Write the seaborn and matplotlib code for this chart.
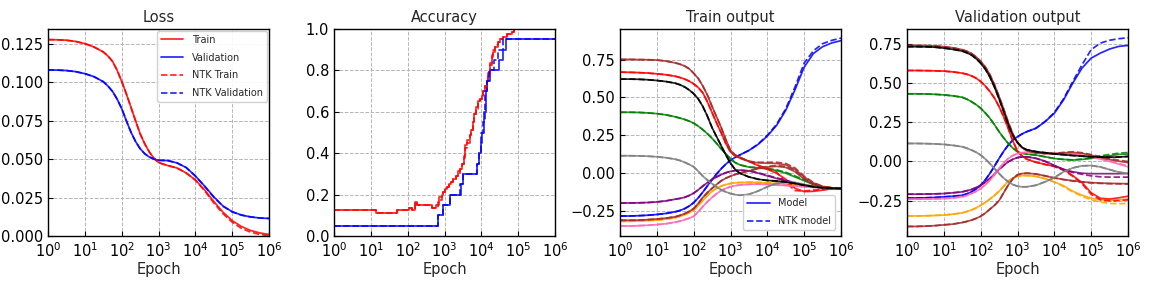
import numpy as np
import pandas as pd
import matplotlib
matplotlib.use("Agg")
import matplotlib.pyplot as plt
import matplotlib.ticker as mticker
from matplotlib.lines import Line2D
import seaborn as sns

# ---------------- data ----------------
EPOCHS = [1, 1.778, 3.162, 5.623, 10, 17.78, 31.62, 42.17, 56.23, 74.99, 100, 133.4, 177.8, 237.1,
          316.2, 421.7, 562.3, 749.9, 1000, 1334, 1778, 3162, 5623, 1e4, 17783, 31623, 56234, 1e5,
          177828, 316228, 562341, 1e6]

# Loss
LOSS_TRAIN = [0.1276, 0.1275, 0.1272, 0.1264, 0.1250, 0.1228, 0.1196, 0.1170, 0.1135, 0.1078, 0.1005,
              0.0925, 0.0838, 0.0750, 0.0665, 0.0600, 0.0546, 0.0505, 0.0478, 0.0467, 0.0458, 0.0442,
              0.0410, 0.0365, 0.0300, 0.0225, 0.0155, 0.0100, 0.0062, 0.0036, 0.0020, 0.0010]
LOSS_VAL = [0.1079, 0.1078, 0.1075, 0.1068, 0.1055, 0.1035, 0.1003, 0.0975, 0.0940, 0.0890, 0.0828,
            0.0750, 0.0676, 0.0615, 0.0568, 0.0535, 0.0513, 0.0500, 0.0492, 0.0491, 0.0490, 0.0475,
            0.0445, 0.0390, 0.0325, 0.0255, 0.0195, 0.0158, 0.0136, 0.0124, 0.0117, 0.0114]
LOSS_NTK_TRAIN = [0.1276, 0.1275, 0.1272, 0.1264, 0.1250, 0.1228, 0.1196, 0.1170, 0.1135, 0.1078, 0.1005,
                  0.0925, 0.0838, 0.0750, 0.0665, 0.0600, 0.0546, 0.0505, 0.0478, 0.0467, 0.0458, 0.0442,
                  0.0410, 0.0363, 0.0295, 0.0215, 0.0145, 0.0090, 0.0050, 0.0025, 0.0010, 0.0003]
LOSS_NTK_VAL = [0.1079, 0.1078, 0.1075, 0.1068, 0.1055, 0.1035, 0.1003, 0.0975, 0.0940, 0.0890, 0.0828,
                0.0750, 0.0676, 0.0615, 0.0568, 0.0535, 0.0513, 0.0500, 0.0492, 0.0491, 0.0490, 0.0475,
                0.0445, 0.0390, 0.0323, 0.0252, 0.0193, 0.0157, 0.0136, 0.0124, 0.0117, 0.0114]

# Accuracy (step changes)
ACC_TRAIN_EPOCH = [1, 13.5, 51, 112, 132, 158, 182, 457, 575, 661, 724, 832, 933, 1047, 1175, 1318, 1514,
                   1738, 1995, 2291, 2630, 3020, 3388, 3715, 4169, 4786, 5370, 5888, 6457, 7244, 8128,
                   9120, 10233, 11220, 12589, 14125, 15488, 16982, 19055, 21380, 23988, 28184, 33113,
                   39811, 50119, 66069, 75858, 107152]
ACC_TRAIN = [0.125, 0.1125, 0.125, 0.1375, 0.125, 0.1625, 0.15, 0.1375, 0.15, 0.1625, 0.1875, 0.2, 0.2125,
             0.225, 0.2375, 0.25, 0.2625, 0.275, 0.2875, 0.3125, 0.325, 0.35, 0.3875, 0.4375, 0.4625,
             0.4875, 0.5125, 0.55, 0.5875, 0.625, 0.65, 0.6625, 0.675, 0.7, 0.725, 0.75, 0.7875, 0.825,
             0.8625, 0.8875, 0.9125, 0.9375, 0.95, 0.9625, 0.975, 0.9875, 1.0, 1.0]
ACC_NTK_TRAIN_EPOCH = [1, 13.5, 51, 112, 132, 158, 182, 457, 575, 661, 724, 832, 933, 1047, 1175, 1318,
                       1514, 1738, 1995, 2291, 2630, 3020, 3388, 3715, 4169, 4786, 5370, 5888, 6457, 7244,
                       8128, 9120, 10233, 11220, 12589, 14125, 15488, 16982, 19055, 21380, 23988, 28184,
                       33113, 39811, 50119, 66069, 75858, 107152]
ACC_NTK_TRAIN = [0.125, 0.1125, 0.125, 0.1375, 0.125, 0.1625, 0.15, 0.1375, 0.1375, 0.15, 0.175, 0.2,
                 0.2125, 0.225, 0.2375, 0.25, 0.2625, 0.275, 0.2875, 0.3, 0.325, 0.35, 0.375, 0.425, 0.45,
                 0.4875, 0.5125, 0.55, 0.5875, 0.6125, 0.65, 0.6625, 0.675, 0.7, 0.725, 0.75, 0.775, 0.8375,
                 0.875, 0.9, 0.925, 0.9375, 0.95, 0.9625, 0.975, 0.9875, 1.0, 1.0]
ACC_VAL_EPOCH = [1, 661, 933, 1413, 2818, 3162, 7413, 8913, 9772, 10715, 12023, 13183, 14125, 16982,
                 30200, 39811, 46774, 1e6]
ACC_VAL = [0.05, 0.1, 0.15, 0.2, 0.25, 0.3, 0.35, 0.4, 0.45, 0.5, 0.6, 0.7, 0.75, 0.8, 0.85, 0.9, 0.95, 0.95]
ACC_NTK_VAL_EPOCH = [1, 661, 933, 1413, 2630, 3162, 7413, 8913, 10000, 11220, 12589, 13800, 14125, 16596,
                     22387, 28184, 39811, 1e6]
ACC_NTK_VAL = [0.05, 0.1, 0.15, 0.2, 0.25, 0.3, 0.35, 0.4, 0.5, 0.55, 0.7, 0.7, 0.75, 0.8, 0.85, 0.9, 0.95, 0.95]

# Train output (model / NTK), one pair per training sample
TR_BLUE = [-0.283, -0.283, -0.281, -0.278, -0.273, -0.266, -0.255, -0.247, -0.235, -0.218, -0.195, -0.163,
           -0.125, -0.083, -0.042, -0.005, 0.030, 0.060, 0.085, 0.104, 0.120, 0.150, 0.190, 0.245, 0.315,
           0.415, 0.550, 0.700, 0.790, 0.835, 0.860, 0.875]
TR_BLUE_NTK = [-0.283, -0.283, -0.281, -0.278, -0.273, -0.266, -0.255, -0.247, -0.235, -0.218, -0.195, -0.163,
               -0.125, -0.083, -0.042, -0.005, 0.030, 0.060, 0.085, 0.104, 0.120, 0.150, 0.192, 0.250, 0.322,
               0.425, 0.568, 0.727, 0.808, 0.855, 0.877, 0.892]
TR_ORANGE = [-0.318, -0.318, -0.316, -0.313, -0.310, -0.304, -0.294, -0.286, -0.275, -0.262, -0.245, -0.214,
             -0.180, -0.148, -0.120, -0.099, -0.085, -0.075, -0.068, -0.064, -0.062, -0.060, -0.062, -0.065,
             -0.068, -0.072, -0.078, -0.086, -0.092, -0.097, -0.099, -0.100]
TR_ORANGE_NTK = [-0.318, -0.318, -0.316, -0.313, -0.310, -0.304, -0.294, -0.286, -0.275, -0.262, -0.245, -0.214,
                 -0.180, -0.148, -0.120, -0.099, -0.085, -0.075, -0.068, -0.064, -0.062, -0.060, -0.061, -0.063,
                 -0.066, -0.070, -0.076, -0.085, -0.092, -0.097, -0.099, -0.100]
TR_GREEN = [0.402, 0.402, 0.401, 0.398, 0.393, 0.385, 0.372, 0.364, 0.355, 0.344, 0.330, 0.310, 0.287, 0.260,
            0.230, 0.196, 0.160, 0.126, 0.095, 0.070, 0.055, 0.040, 0.035, 0.028, 0.018, 0.000, -0.025, -0.050,
            -0.075, -0.090, -0.097, -0.100]
TR_GREEN_NTK = [0.402, 0.402, 0.401, 0.398, 0.393, 0.385, 0.372, 0.364, 0.355, 0.344, 0.330, 0.310, 0.287,
                0.260, 0.230, 0.196, 0.160, 0.126, 0.095, 0.070, 0.055, 0.040, 0.036, 0.031, 0.022, 0.006,
                -0.018, -0.045, -0.072, -0.089, -0.097, -0.100]
TR_RED = [0.667, 0.666, 0.664, 0.661, 0.656, 0.650, 0.640, 0.632, 0.622, 0.608, 0.590, 0.565, 0.530, 0.470,
          0.400, 0.330, 0.265, 0.195, 0.140, 0.115, 0.100, 0.078, 0.050, 0.025, 0.000, -0.040, -0.100, -0.122,
          -0.120, -0.112, -0.104, -0.099]
TR_RED_NTK = [0.667, 0.666, 0.664, 0.661, 0.656, 0.650, 0.640, 0.632, 0.622, 0.608, 0.590, 0.565, 0.530, 0.470,
              0.400, 0.330, 0.265, 0.195, 0.140, 0.115, 0.100, 0.078, 0.052, 0.030, 0.008, -0.060, -0.115,
              -0.118, -0.112, -0.108, -0.103, -0.099]
TR_PURPLE = [-0.197, -0.197, -0.196, -0.194, -0.190, -0.183, -0.172, -0.167, -0.160, -0.148, -0.132, -0.110,
             -0.085, -0.062, -0.042, -0.024, -0.010, 0.003, 0.012, 0.017, 0.020, 0.015, 0.000, -0.018, -0.035,
             -0.050, -0.065, -0.078, -0.088, -0.095, -0.099, -0.100]
TR_PURPLE_NTK = [-0.197, -0.197, -0.196, -0.194, -0.190, -0.183, -0.172, -0.167, -0.160, -0.148, -0.132, -0.110,
                 -0.085, -0.062, -0.042, -0.024, -0.010, 0.003, 0.012, 0.017, 0.020, 0.015, 0.003, -0.014,
                 -0.031, -0.047, -0.063, -0.077, -0.088, -0.095, -0.099, -0.100]
TR_BROWN_LOW = [-0.311, -0.311, -0.310, -0.307, -0.303, -0.297, -0.288, -0.279, -0.268, -0.253, -0.234, -0.200,
                -0.160, -0.128, -0.100, -0.074, -0.050, -0.033, -0.020, -0.009, 0.000, 0.015, 0.030, 0.040,
                0.045, 0.038, 0.010, -0.040, -0.075, -0.092, -0.098, -0.100]
TR_BROWN_LOW_NTK = [-0.311, -0.311, -0.310, -0.307, -0.303, -0.297, -0.288, -0.279, -0.268, -0.253, -0.234,
                    -0.200, -0.160, -0.128, -0.100, -0.074, -0.050, -0.033, -0.020, -0.009, 0.000, 0.015, 0.033,
                    0.045, 0.050, 0.045, 0.018, -0.034, -0.072, -0.091, -0.098, -0.100]
TR_PINK = [-0.349, -0.349, -0.347, -0.344, -0.340, -0.334, -0.324, -0.317, -0.308, -0.298, -0.285, -0.255,
           -0.220, -0.188, -0.160, -0.135, -0.115, -0.100, -0.090, -0.083, -0.078, -0.074, -0.073, -0.075,
           -0.078, -0.082, -0.086, -0.090, -0.094, -0.097, -0.099, -0.100]
TR_PINK_NTK = [-0.349, -0.349, -0.347, -0.344, -0.340, -0.334, -0.324, -0.317, -0.308, -0.298, -0.285, -0.255,
               -0.220, -0.188, -0.160, -0.135, -0.115, -0.100, -0.090, -0.083, -0.078, -0.074, -0.071, -0.073,
               -0.076, -0.080, -0.085, -0.089, -0.094, -0.097, -0.099, -0.100]
TR_GRAY = [0.115, 0.115, 0.114, 0.112, 0.108, 0.102, 0.092, 0.084, 0.072, 0.058, 0.042, 0.012, -0.020, -0.046,
           -0.070, -0.092, -0.110, -0.124, -0.135, -0.142, -0.146, -0.140, -0.118, -0.090, -0.068, -0.058,
           -0.062, -0.075, -0.088, -0.095, -0.099, -0.100]
TR_GRAY_NTK = [0.115, 0.115, 0.114, 0.112, 0.108, 0.102, 0.092, 0.084, 0.072, 0.058, 0.042, 0.012, -0.020,
               -0.046, -0.070, -0.092, -0.110, -0.124, -0.135, -0.142, -0.146, -0.140, -0.118, -0.090, -0.068,
               -0.058, -0.062, -0.075, -0.088, -0.095, -0.099, -0.100]
TR_BROWN_HIGH = [0.751, 0.751, 0.750, 0.749, 0.747, 0.740, 0.728, 0.720, 0.708, 0.690, 0.660, 0.625, 0.575,
                 0.515, 0.440, 0.370, 0.300, 0.220, 0.150, 0.120, 0.105, 0.078, 0.068, 0.066, 0.064, 0.055,
                 0.025, -0.025, -0.065, -0.088, -0.097, -0.100]
TR_BROWN_HIGH_NTK = [0.751, 0.751, 0.750, 0.749, 0.747, 0.740, 0.728, 0.720, 0.708, 0.690, 0.660, 0.625, 0.575,
                     0.515, 0.440, 0.370, 0.300, 0.220, 0.150, 0.120, 0.105, 0.078, 0.072, 0.072, 0.072, 0.064,
                     0.035, -0.020, -0.062, -0.087, -0.097, -0.100]
TR_BLACK = [0.621, 0.621, 0.620, 0.617, 0.612, 0.605, 0.594, 0.584, 0.570, 0.550, 0.525, 0.490, 0.440, 0.375,
            0.300, 0.240, 0.180, 0.120, 0.065, 0.025, 0.000, -0.025, -0.040, -0.048, -0.052, -0.058, -0.068,
            -0.080, -0.090, -0.097, -0.100, -0.102]
TR_BLACK_NTK = [0.621, 0.621, 0.620, 0.617, 0.612, 0.605, 0.594, 0.584, 0.570, 0.550, 0.525, 0.490, 0.440,
                0.375, 0.300, 0.240, 0.180, 0.120, 0.065, 0.025, 0.000, -0.025, -0.040, -0.048, -0.052, -0.058,
                -0.068, -0.080, -0.090, -0.097, -0.100, -0.102]

# Validation output (model / NTK)
VA_BLUE = [-0.233, -0.233, -0.232, -0.230, -0.226, -0.222, -0.216, -0.207, -0.194, -0.176, -0.152, -0.118,
           -0.077, -0.030, 0.019, 0.065, 0.105, 0.137, 0.158, 0.176, 0.190, 0.212, 0.254, 0.308, 0.393, 0.500,
           0.596, 0.660, 0.692, 0.718, 0.735, 0.741]
VA_BLUE_NTK = [-0.233, -0.233, -0.232, -0.230, -0.226, -0.222, -0.216, -0.207, -0.194, -0.176, -0.152, -0.118,
               -0.077, -0.030, 0.019, 0.065, 0.105, 0.137, 0.158, 0.176, 0.190, 0.212, 0.256, 0.312, 0.400,
               0.510, 0.617, 0.714, 0.756, 0.774, 0.784, 0.790]
VA_ORANGE = [-0.348, -0.348, -0.347, -0.345, -0.342, -0.337, -0.328, -0.320, -0.310, -0.297, -0.280, -0.262,
             -0.240, -0.217, -0.190, -0.158, -0.125, -0.105, -0.095, -0.090, -0.090, -0.095, -0.110, -0.130,
             -0.155, -0.190, -0.215, -0.235, -0.245, -0.247, -0.245, -0.240]
VA_ORANGE_NTK = [-0.348, -0.348, -0.347, -0.345, -0.342, -0.337, -0.328, -0.320, -0.310, -0.297, -0.280, -0.262,
                 -0.240, -0.217, -0.190, -0.158, -0.125, -0.105, -0.095, -0.090, -0.090, -0.095, -0.110, -0.132,
                 -0.160, -0.195, -0.222, -0.245, -0.260, -0.268, -0.270, -0.268]
VA_GREEN = [0.432, 0.432, 0.431, 0.429, 0.425, 0.419, 0.410, 0.398, 0.382, 0.363, 0.340, 0.310, 0.276, 0.235,
            0.190, 0.150, 0.115, 0.085, 0.062, 0.053, 0.047, 0.041, 0.030, 0.019, 0.013, 0.009, 0.013, 0.019,
            0.030, 0.036, 0.045, 0.047]
VA_GREEN_NTK = [0.432, 0.432, 0.431, 0.429, 0.425, 0.419, 0.410, 0.398, 0.382, 0.363, 0.340, 0.310, 0.276,
                0.235, 0.190, 0.150, 0.115, 0.085, 0.062, 0.053, 0.047, 0.041, 0.030, 0.019, 0.013, 0.010,
                0.015, 0.024, 0.036, 0.045, 0.053, 0.057]
VA_RED = [0.581, 0.581, 0.580, 0.579, 0.577, 0.572, 0.564, 0.557, 0.547, 0.532, 0.511, 0.482, 0.447, 0.405,
          0.350, 0.285, 0.210, 0.130, 0.065, 0.035, 0.015, -0.005, -0.018, -0.030, -0.050, -0.090, -0.135,
          -0.200, -0.235, -0.240, -0.232, -0.222]
VA_RED_NTK = [0.581, 0.581, 0.580, 0.579, 0.577, 0.572, 0.564, 0.557, 0.547, 0.532, 0.511, 0.482, 0.447, 0.405,
              0.350, 0.285, 0.210, 0.130, 0.065, 0.035, 0.015, -0.005, -0.020, -0.033, -0.055, -0.095, -0.142,
              -0.210, -0.245, -0.252, -0.250, -0.245]
VA_PURPLE = [-0.209, -0.209, -0.208, -0.207, -0.205, -0.200, -0.194, -0.187, -0.179, -0.167, -0.152, -0.133,
             -0.109, -0.080, -0.051, -0.025, -0.002, 0.014, 0.025, 0.029, 0.030, 0.020, 0.002, -0.025, -0.050,
             -0.066, -0.075, -0.078, -0.078, -0.078, -0.078, -0.077]
VA_PURPLE_NTK = [-0.209, -0.209, -0.208, -0.207, -0.205, -0.200, -0.194, -0.187, -0.179, -0.167, -0.152, -0.133,
                 -0.109, -0.080, -0.051, -0.025, -0.002, 0.014, 0.025, 0.029, 0.030, 0.020, 0.000, -0.028,
                 -0.055, -0.070, -0.082, -0.092, -0.098, -0.100, -0.100, -0.100]
VA_BROWN_LOW = [-0.415, -0.415, -0.413, -0.410, -0.405, -0.400, -0.390, -0.383, -0.375, -0.364, -0.350, -0.330,
                -0.305, -0.280, -0.250, -0.200, -0.150, -0.110, -0.085, -0.077, -0.075, -0.080, -0.092, -0.105,
                -0.115, -0.123, -0.130, -0.135, -0.138, -0.140, -0.141, -0.142]
VA_BROWN_LOW_NTK = [-0.415, -0.415, -0.413, -0.410, -0.405, -0.400, -0.390, -0.383, -0.375, -0.364, -0.350,
                    -0.330, -0.305, -0.280, -0.250, -0.200, -0.150, -0.110, -0.085, -0.077, -0.075, -0.080,
                    -0.092, -0.105, -0.116, -0.125, -0.132, -0.137, -0.140, -0.142, -0.143, -0.144]
VA_PINK = [-0.241, -0.241, -0.240, -0.239, -0.237, -0.233, -0.226, -0.217, -0.205, -0.191, -0.173, -0.150,
           -0.120, -0.085, -0.045, -0.010, 0.019, 0.038, 0.050, 0.056, 0.058, 0.056, 0.052, 0.050, 0.050, 0.048,
           0.040, 0.028, 0.015, 0.000, -0.017, -0.034]
VA_PINK_NTK = [-0.241, -0.241, -0.240, -0.239, -0.237, -0.233, -0.226, -0.217, -0.205, -0.191, -0.173, -0.150,
               -0.120, -0.085, -0.045, -0.010, 0.019, 0.038, 0.050, 0.056, 0.058, 0.056, 0.052, 0.050, 0.050,
               0.048, 0.041, 0.030, 0.018, 0.004, -0.012, -0.028]
VA_GRAY = [0.115, 0.115, 0.114, 0.112, 0.109, 0.103, 0.094, 0.085, 0.073, 0.059, 0.041, 0.016, -0.013, -0.045,
           -0.077, -0.107, -0.130, -0.148, -0.158, -0.162, -0.162, -0.152, -0.130, -0.103, -0.066, -0.041,
           -0.028, -0.026, -0.035, -0.052, -0.068, -0.077]
VA_GRAY_NTK = [0.115, 0.115, 0.114, 0.112, 0.109, 0.103, 0.094, 0.085, 0.073, 0.059, 0.041, 0.016, -0.013,
               -0.045, -0.077, -0.107, -0.130, -0.148, -0.158, -0.162, -0.162, -0.152, -0.130, -0.103, -0.066,
               -0.041, -0.028, -0.026, -0.035, -0.052, -0.068, -0.077]
VA_BROWN_HIGH = [0.741, 0.741, 0.740, 0.738, 0.733, 0.726, 0.714, 0.704, 0.690, 0.668, 0.640, 0.604, 0.555,
                 0.490, 0.415, 0.335, 0.250, 0.175, 0.120, 0.088, 0.070, 0.055, 0.050, 0.050, 0.055, 0.058,
                 0.052, 0.040, 0.025, 0.012, 0.002, -0.008]
VA_BROWN_HIGH_NTK = [0.741, 0.741, 0.740, 0.738, 0.733, 0.726, 0.714, 0.704, 0.690, 0.668, 0.640, 0.604, 0.555,
                     0.490, 0.415, 0.335, 0.250, 0.175, 0.120, 0.088, 0.070, 0.055, 0.051, 0.052, 0.058, 0.062,
                     0.056, 0.044, 0.030, 0.018, 0.008, 0.000]
VA_BLACK = [0.733, 0.733, 0.732, 0.730, 0.724, 0.716, 0.705, 0.694, 0.680, 0.657, 0.628, 0.590, 0.540, 0.475,
            0.400, 0.318, 0.235, 0.165, 0.120, 0.090, 0.075, 0.063, 0.056, 0.048, 0.043, 0.038, 0.034, 0.030,
            0.028, 0.027, 0.028, 0.032]
VA_BLACK_NTK = [0.733, 0.733, 0.732, 0.730, 0.724, 0.716, 0.705, 0.694, 0.680, 0.657, 0.628, 0.590, 0.540,
                0.475, 0.400, 0.318, 0.235, 0.165, 0.120, 0.090, 0.075, 0.063, 0.056, 0.048, 0.043, 0.038,
                0.034, 0.030, 0.028, 0.027, 0.028, 0.032]

SAMPLE_COLORS = ["blue", "orange", "green", "red", "purple", "brown", "pink", "gray", "brown", "black"]
TRAIN_SERIES = [(TR_BLUE, TR_BLUE_NTK), (TR_ORANGE, TR_ORANGE_NTK), (TR_GREEN, TR_GREEN_NTK),
                (TR_RED, TR_RED_NTK), (TR_PURPLE, TR_PURPLE_NTK), (TR_BROWN_LOW, TR_BROWN_LOW_NTK),
                (TR_PINK, TR_PINK_NTK), (TR_GRAY, TR_GRAY_NTK), (TR_BROWN_HIGH, TR_BROWN_HIGH_NTK),
                (TR_BLACK, TR_BLACK_NTK)]
VAL_SERIES = [(VA_BLUE, VA_BLUE_NTK), (VA_ORANGE, VA_ORANGE_NTK), (VA_GREEN, VA_GREEN_NTK),
              (VA_RED, VA_RED_NTK), (VA_PURPLE, VA_PURPLE_NTK), (VA_BROWN_LOW, VA_BROWN_LOW_NTK),
              (VA_PINK, VA_PINK_NTK), (VA_GRAY, VA_GRAY_NTK), (VA_BROWN_HIGH, VA_BROWN_HIGH_NTK),
              (VA_BLACK, VA_BLACK_NTK)]

# ---------------- style ----------------
sns.set_style("ticks")
plt.rcParams["font.family"] = ["DejaVu Sans"]
plt.rcParams["font.size"] = 10
PINK = "hotpink"
LW = 1.25
ALPHA = 0.85
LEG_KW = dict(fontsize=7.0, labelspacing=0.8, handlelength=2.3, handletextpad=0.9,
              framealpha=0.9, edgecolor="#cccccc")

fig = plt.figure(figsize=(11.52, 2.88), dpi=100)
W = 221 / 1152
H = 207 / 288
B = 1 - 236 / 288
lefts = [48 / 1152, 334 / 1152, 620 / 1152, 907 / 1152]
axes = [fig.add_axes([l, B, W, H]) for l in lefts]


def line(ax, x, y, color, ls="-", **kw):
    col = PINK if color == "pink" else color
    sns.lineplot(x=x, y=y, ax=ax, color=col, linestyle=ls, lw=LW, alpha=ALPHA,
                 estimator=None, sort=False, legend=False, **kw)


def style(ax, title):
    ax.set_xscale("log")
    ax.set_xlim(1, 1e6)
    ax.xaxis.set_major_locator(mticker.LogLocator(base=10, numticks=10))
    ax.xaxis.set_minor_locator(mticker.NullLocator())
    ax.tick_params(direction="in", length=3.5, width=0.8, labelsize=10.5, colors="black")
    ax.grid(True, linestyle="--", color="#b5b5b5", linewidth=0.7)
    ax.set_axisbelow(True)
    for s in ax.spines.values():
        s.set_color("black")
        s.set_linewidth(1.0)
    ax.set_title(title, fontsize=10.5, pad=5)
    ax.set_xlabel("Epoch", fontsize=10.5, labelpad=2)
    ax.set_ylabel("")


def minus_fmt(fmt):
    return mticker.FuncFormatter(lambda v, p: (fmt % v).replace("-", "\u2212"))


# Loss
ax = axes[0]
line(ax, EPOCHS, LOSS_TRAIN, "red")
line(ax, EPOCHS, LOSS_VAL, "blue")
line(ax, EPOCHS, LOSS_NTK_TRAIN, "red", ls="--")
line(ax, EPOCHS, LOSS_NTK_VAL, "blue", ls="--")
style(ax, "Loss")
ax.set_ylim(0, 0.1345)
ax.yaxis.set_major_locator(mticker.MultipleLocator(0.025))
ax.yaxis.set_major_formatter(mticker.FormatStrFormatter("%.3f"))
hl = [Line2D([], [], color="red", lw=LW, alpha=ALPHA),
      Line2D([], [], color="blue", lw=LW, alpha=ALPHA),
      Line2D([], [], color="red", lw=LW, alpha=ALPHA, ls="--"),
      Line2D([], [], color="blue", lw=LW, alpha=ALPHA, ls="--")]
ax.legend(hl, ["Train", "Validation", "NTK Train", "NTK Validation"], loc="upper right",
          borderaxespad=0.2, **LEG_KW)

# Accuracy
ax = axes[1]
line(ax, ACC_TRAIN_EPOCH, ACC_TRAIN, "red", drawstyle="steps-post")
line(ax, ACC_VAL_EPOCH, ACC_VAL, "blue", drawstyle="steps-post")
line(ax, ACC_NTK_TRAIN_EPOCH, ACC_NTK_TRAIN, "red", ls="--", drawstyle="steps-post")
line(ax, ACC_NTK_VAL_EPOCH, ACC_NTK_VAL, "blue", ls="--", drawstyle="steps-post")
style(ax, "Accuracy")
ax.set_ylim(0, 1.0)
ax.yaxis.set_major_locator(mticker.MultipleLocator(0.2))
ax.yaxis.set_major_formatter(mticker.FormatStrFormatter("%.1f"))

# Train output
ax = axes[2]
for c, (m, n) in zip(SAMPLE_COLORS, TRAIN_SERIES):
    line(ax, EPOCHS, m, c)
    line(ax, EPOCHS, n, c, ls="--")
style(ax, "Train output")
ax.set_ylim(-0.415, 0.952)
ax.yaxis.set_major_locator(mticker.MultipleLocator(0.25))
ax.yaxis.set_major_formatter(minus_fmt("%.2f"))
h = [Line2D([], [], color="blue", lw=LW, alpha=ALPHA),
     Line2D([], [], color="blue", lw=LW, alpha=ALPHA, ls="--")]
ax.legend(h, ["Model", "NTK model"], loc="lower right", borderaxespad=0.6, **LEG_KW)

# Validation output
ax = axes[3]
for c, (m, n) in zip(SAMPLE_COLORS, VAL_SERIES):
    line(ax, EPOCHS, m, c)
    line(ax, EPOCHS, n, c, ls="--")
style(ax, "Validation output")
ax.set_ylim(-0.476, 0.846)
ax.yaxis.set_major_locator(mticker.MultipleLocator(0.25))
ax.yaxis.set_major_formatter(minus_fmt("%.2f"))

fig.savefig("out.png", dpi=100)
